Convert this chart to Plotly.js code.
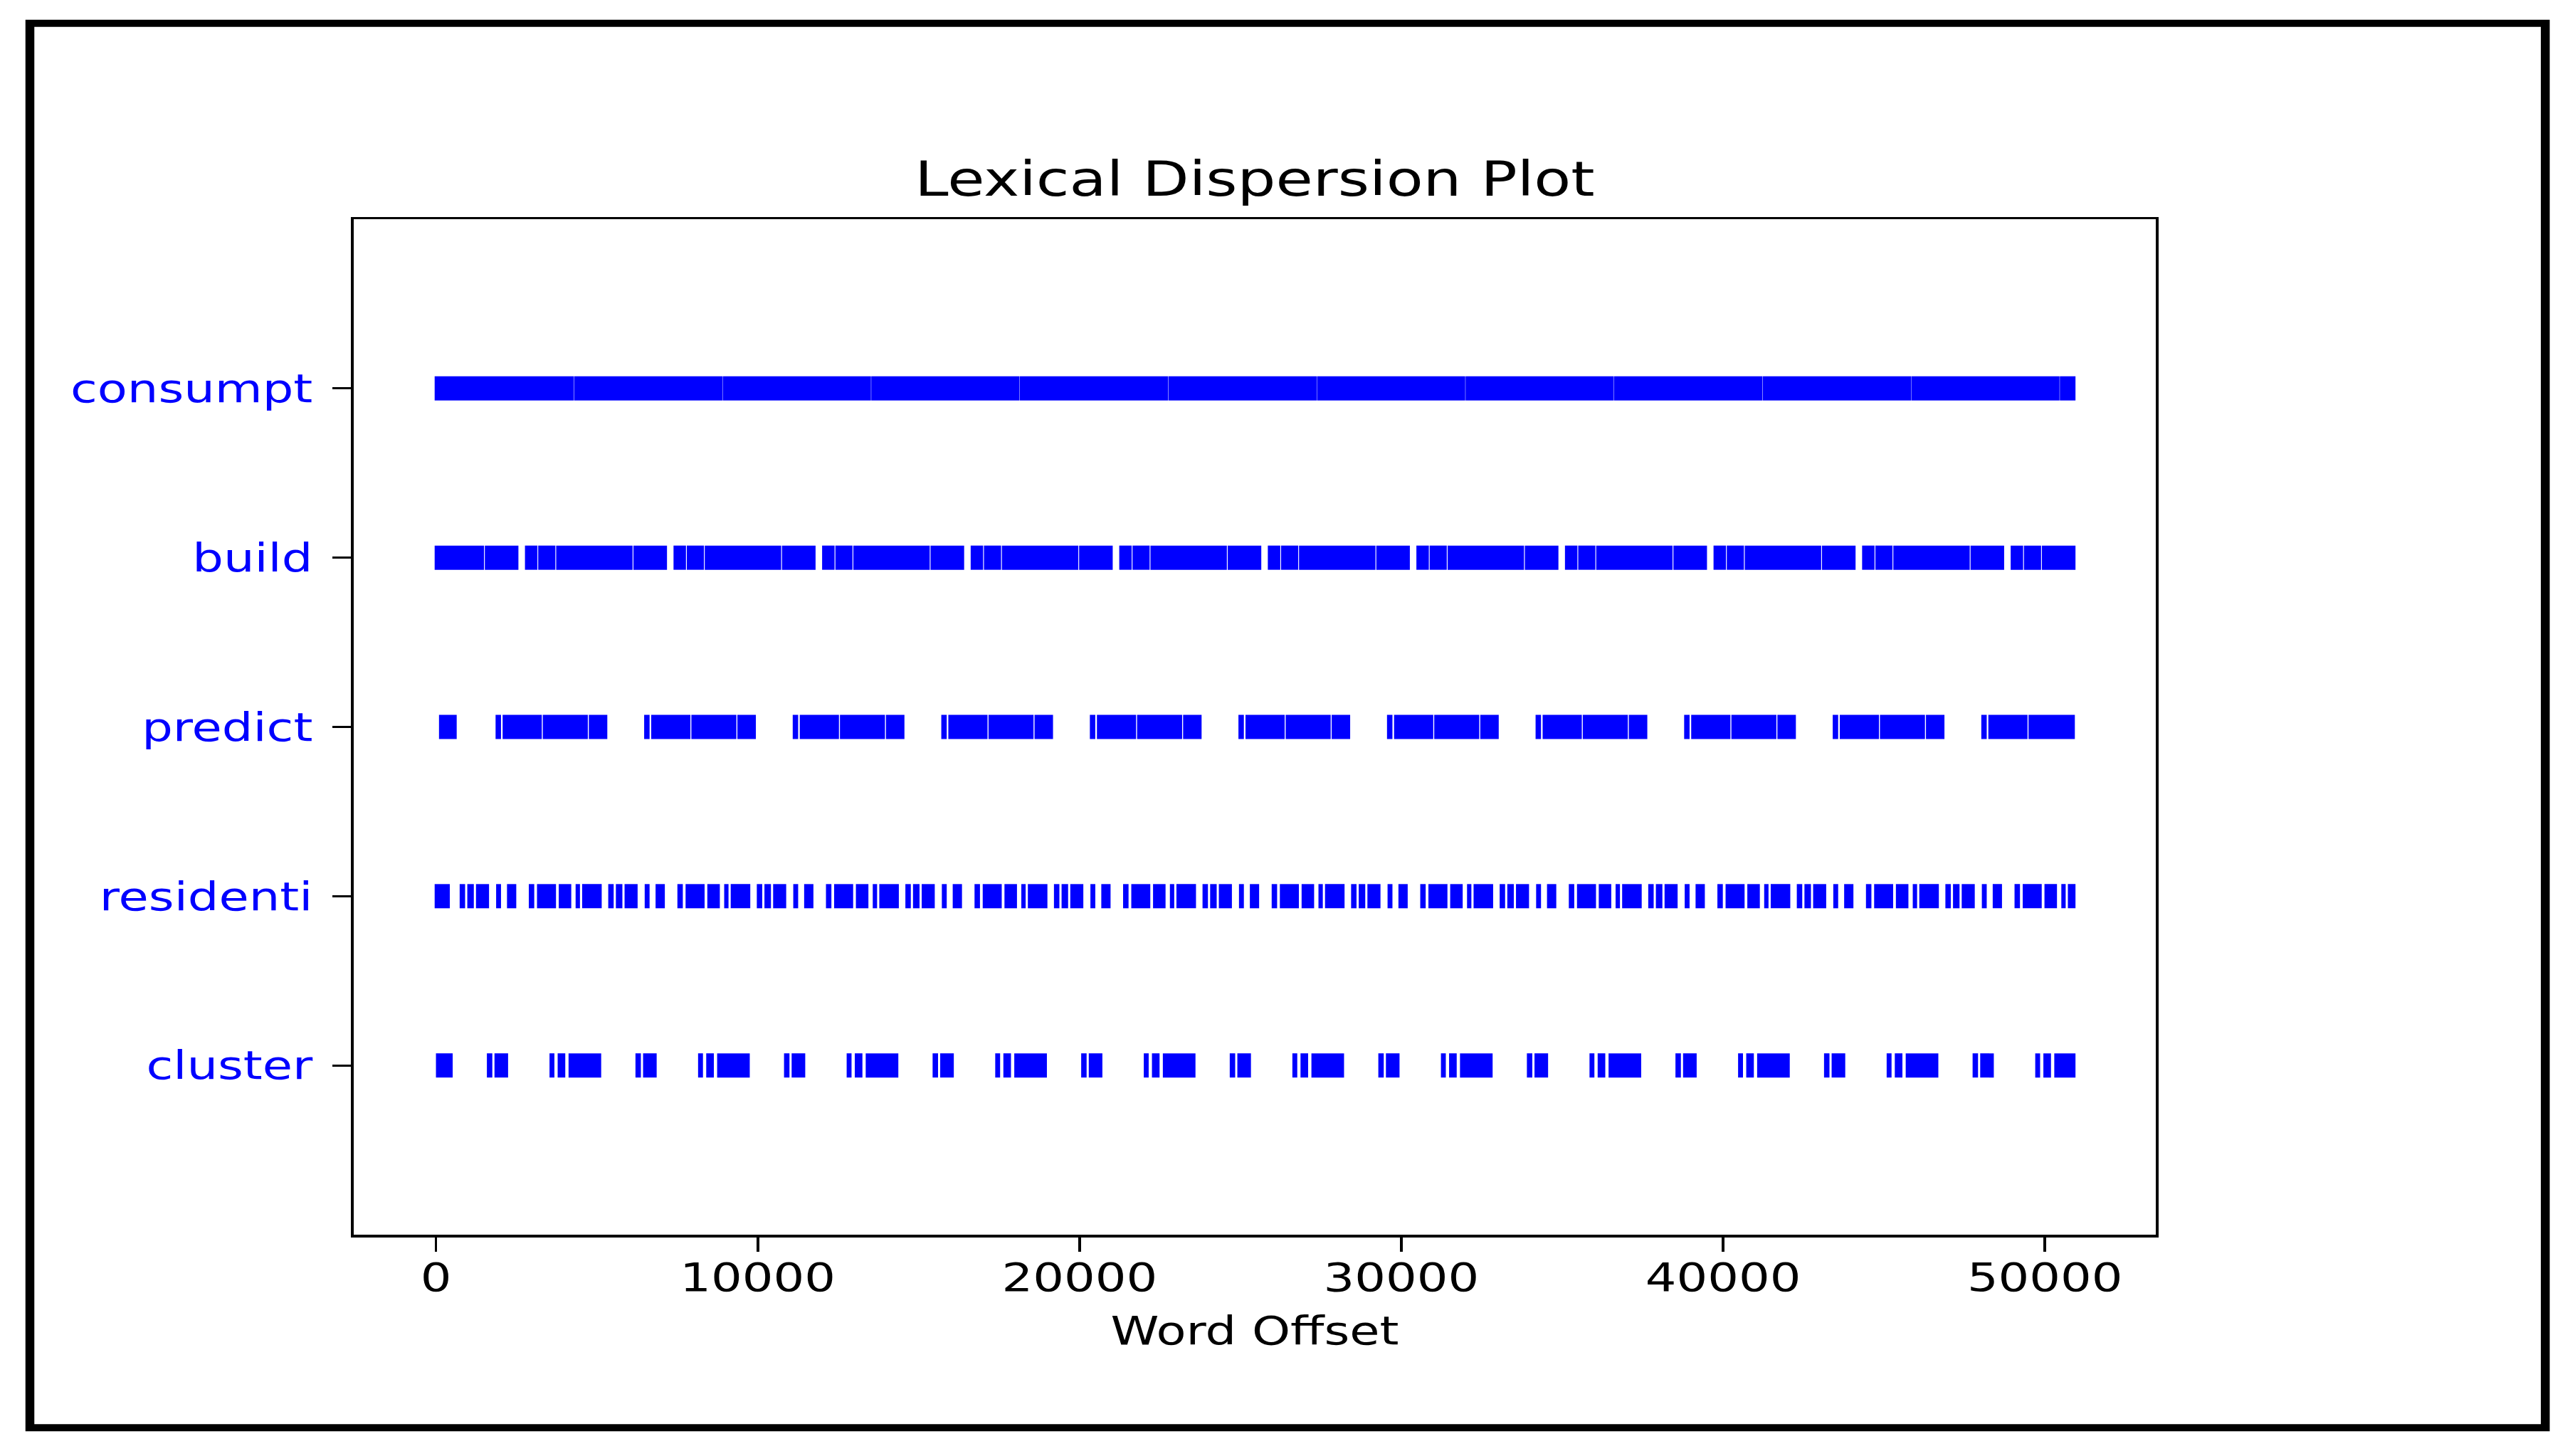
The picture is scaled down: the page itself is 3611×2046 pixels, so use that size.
<!DOCTYPE html>
<html>
<head>
<meta charset="utf-8">
<script src="https://cdn.plot.ly/plotly-3.0.1.min.js"></script>
<style>
html, body { margin: 0; padding: 0; background: #ffffff; overflow: hidden; width: 3611px; height: 2046px; }
#chart { width: 2889px; height: 2046px; transform: scaleX(1.24991); transform-origin: 0 0; }
</style>
</head>
<body>
<div id="chart"></div>
<script>
// Word order on the y axis, bottom to top
const words = ['cluster', 'residenti', 'predict', 'build', 'consumpt'];

// x-axis ticks
const xTickValues = [0, 10000, 20000, 30000, 40000, 50000];
const xTickLabels = ['0', '10000', '20000', '30000', '40000', '50000'];

// Runs of occurrences (word offsets): start / end of each solid stretch
const consumptStart = [-40, 4294, 8911, 13528, 18145, 22762, 27379, 31996, 36613, 41230, 45847, 50464];
const consumptEnd   = [4284, 8901, 13518, 18135, 22752, 27369, 31986, 36603, 41220, 45837, 50454, 50950];

const buildStart = [-40, 1519, 2766, 3178, 3736, 6136, 7383, 7795, 8353, 10753, 12000, 12412, 12970, 15370,
  16617, 17029, 17587, 19987, 21234, 21646, 22204, 24604, 25851, 26263, 26821, 29221, 30468, 30880, 31438, 33838,
  35085, 35497, 36055, 38455, 39702, 40114, 40672, 43072, 44319, 44731, 45289, 47689, 48936, 49348, 49906];
const buildEnd = [1494, 2563, 3153, 3711, 6111, 7180, 7770, 8328, 10728, 11797, 12387, 12945, 15345, 16414,
  17004, 17562, 19962, 21031, 21621, 22179, 24579, 25648, 26238, 26796, 29196, 30265, 30855, 31413, 33813, 34882,
  35472, 36030, 38430, 39499, 40089, 40647, 43047, 44116, 44706, 45264, 47664, 48733, 49323, 49881, 50950];

const predictStart = [95, 1853, 2072, 3320, 4750, 6470, 6689, 7937, 9367, 11087, 11306, 12554, 13984,
  15704, 15923, 17171, 18601, 20321, 20540, 21788, 23218, 24938, 25157, 26405, 27835, 29555, 29774, 31022, 32452,
  34172, 34391, 35639, 37069, 38789, 39008, 40256, 41686, 43406, 43625, 44873, 46303, 48023, 48242, 49490];
const predictEnd = [645, 2022, 3290, 4720, 5325, 6639, 7907, 9337, 9942, 11256, 12524, 13954, 14559,
  15873, 17141, 18571, 19176, 20490, 21758, 23188, 23793, 25107, 26375, 27805, 28410, 29724, 30992, 32422, 33027,
  34341, 35609, 37039, 37644, 38958, 40226, 41656, 42261, 43575, 44843, 46273, 46878, 48192, 49460, 50930];

const residentiStart = [-40, 737, 974, 1244, 1870, 2208,
  2886, 3140, 3816, 4340, 4543, 5354, 5591, 5861, 6487, 6825,
  7503, 7757, 8433, 8957, 9160, 9971, 10208, 10478, 11104, 11442,
  12120, 12374, 13050, 13574, 13777, 14588, 14825, 15095, 15721, 16059,
  16737, 16991, 17667, 18191, 18394, 19205, 19442, 19712, 20338, 20676,
  21354, 21608, 22284, 22808, 23011, 23822, 24059, 24329, 24955, 25293,
  25971, 26225, 26901, 27425, 27628, 28439, 28676, 28946, 29572, 29910,
  30588, 30842, 31518, 32042, 32245, 33056, 33293, 33563, 34189, 34527,
  35205, 35459, 36135, 36659, 36862, 37673, 37910, 38180, 38806, 39144,
  39822, 40076, 40752, 41276, 41479, 42290, 42527, 42797, 43423, 43761,
  44439, 44693, 45369, 45893, 46096, 46907, 47144, 47414, 48040, 48378,
  49056, 49310, 49986, 50510, 50713];
const residentiEnd = [430, 906, 1177, 1650, 2022, 2496,
  3055, 3731, 4205, 4475, 5151, 5523, 5794, 6267, 6639, 7113,
  7672, 8348, 8822, 9092, 9768, 10140, 10411, 10884, 11256, 11730,
  12289, 12965, 13439, 13709, 14385, 14757, 15028, 15501, 15873, 16347,
  16906, 17582, 18056, 18326, 19002, 19374, 19645, 20118, 20490, 20964,
  21523, 22199, 22673, 22943, 23619, 23991, 24262, 24735, 25107, 25581,
  26140, 26816, 27290, 27560, 28236, 28608, 28879, 29352, 29724, 30198,
  30757, 31433, 31907, 32177, 32853, 33225, 33496, 33969, 34341, 34815,
  35374, 36050, 36524, 36794, 37470, 37842, 38113, 38586, 38958, 39432,
  39991, 40667, 41141, 41411, 42087, 42459, 42730, 43203, 43575, 44049,
  44608, 45284, 45758, 46028, 46704, 47076, 47347, 47820, 48192, 48666,
  49225, 49901, 50375, 50645, 50950];

const clusterStart = [0, 1583, 1819,
  3529, 3782, 4121, 6200, 6436,
  8146, 8399, 8738, 10817, 11053,
  12763, 13016, 13355, 15434, 15670,
  17380, 17633, 17972, 20051, 20287,
  21997, 22250, 22589, 24668, 24904,
  26614, 26867, 27206, 29285, 29521,
  31231, 31484, 31823, 33902, 34138,
  35848, 36101, 36440, 38519, 38755,
  40465, 40718, 41057, 43136, 43372,
  45082, 45335, 45674, 47753, 47989,
  49699, 49952, 50291];
const clusterEnd = [520, 1752, 2242,
  3681, 4019, 5135, 6369, 6859,
  8298, 8636, 9752, 10986, 11476,
  12915, 13253, 14369, 15603, 16093,
  17532, 17870, 18986, 20220, 20710,
  22149, 22487, 23603, 24837, 25327,
  26766, 27104, 28220, 29454, 29944,
  31383, 31721, 32837, 34071, 34561,
  36000, 36338, 37454, 38688, 39178,
  40617, 40955, 42071, 43305, 43795,
  45234, 45572, 46688, 47922, 48412,
  49851, 50189, 50950];

const runs = {
  consumpt: [consumptStart, consumptEnd],
  build: [buildStart, buildEnd],
  predict: [predictStart, predictEnd],
  residenti: [residentiStart, residentiEnd],
  cluster: [clusterStart, clusterEnd]
};

const BLUE = 'rgb(0,0,255)';
const FONT = 'DejaVu Sans, Verdana, sans-serif';

function makeTrace(word) {
  const s = runs[word][0], e = runs[word][1];
  const x = [], y = [];
  for (let i = 0; i < s.length; i++) {
    x.push(s[i], e[i], null);
    y.push(word, word, null);
  }
  return {
    type: 'scatter', mode: 'lines', x: x, y: y,
    line: { color: BLUE, width: 34 },
    connectgaps: false, hoverinfo: 'skip', showlegend: false, name: word
  };
}

const data = words.map(makeTrace);

const layout = {
  width: 2889, height: 2046,
  margin: { l: 398, r: 466, t: 308, b: 311, pad: 0 },
  paper_bgcolor: '#ffffff', plot_bgcolor: '#ffffff',
  showlegend: false,
  font: { family: FONT, size: 55, color: '#000000' },
  title: {
    text: 'Lexical Dispersion Plot',
    font: { family: FONT, size: 68, color: '#000000' },
    x: 0.5, xref: 'paper', xanchor: 'center',
    y: 1, yref: 'paper', yanchor: 'bottom',
    pad: { b: 33, t: 0, l: 0, r: 0 }
  },
  xaxis: {
    range: [-2545, 53435],
    tickmode: 'array', tickvals: xTickValues, ticktext: xTickLabels,
    ticks: 'outside', ticklen: 20, tickwidth: 3, tickcolor: '#000000',
    ticklabelstandoff: -10,
    showline: true, linewidth: 3.5, linecolor: '#000000', mirror: true,
    showgrid: false, zeroline: false,
    tickfont: { family: FONT, size: 55, color: '#000000' },
    title: { text: 'Word Offset', font: { family: FONT, size: 55, color: '#000000' }, standoff: 25 }
  },
  yaxis: {
    type: 'category', categoryorder: 'array', categoryarray: words,
    range: [-1, 5],
    ticks: 'outside', ticklen: 21, tickwidth: 3, tickcolor: '#000000',
    ticklabelstandoff: 11,
    showline: true, linewidth: 3.5, linecolor: '#000000', mirror: true,
    showgrid: false, zeroline: false,
    tickfont: { family: FONT, size: 55, color: BLUE }
  },
  shapes: [{
    type: 'rect', xref: 'paper', yref: 'paper',
    x0: -0.17995, x1: 1.2164, y0: -0.19, y1: 1.1928,
    line: { color: '#000000', width: 10 }, fillcolor: 'rgba(0,0,0,0)', layer: 'above'
  }]
};

Plotly.newPlot('chart', data, layout, { staticPlot: true, displayModeBar: false });
</script>
</body>
</html>
